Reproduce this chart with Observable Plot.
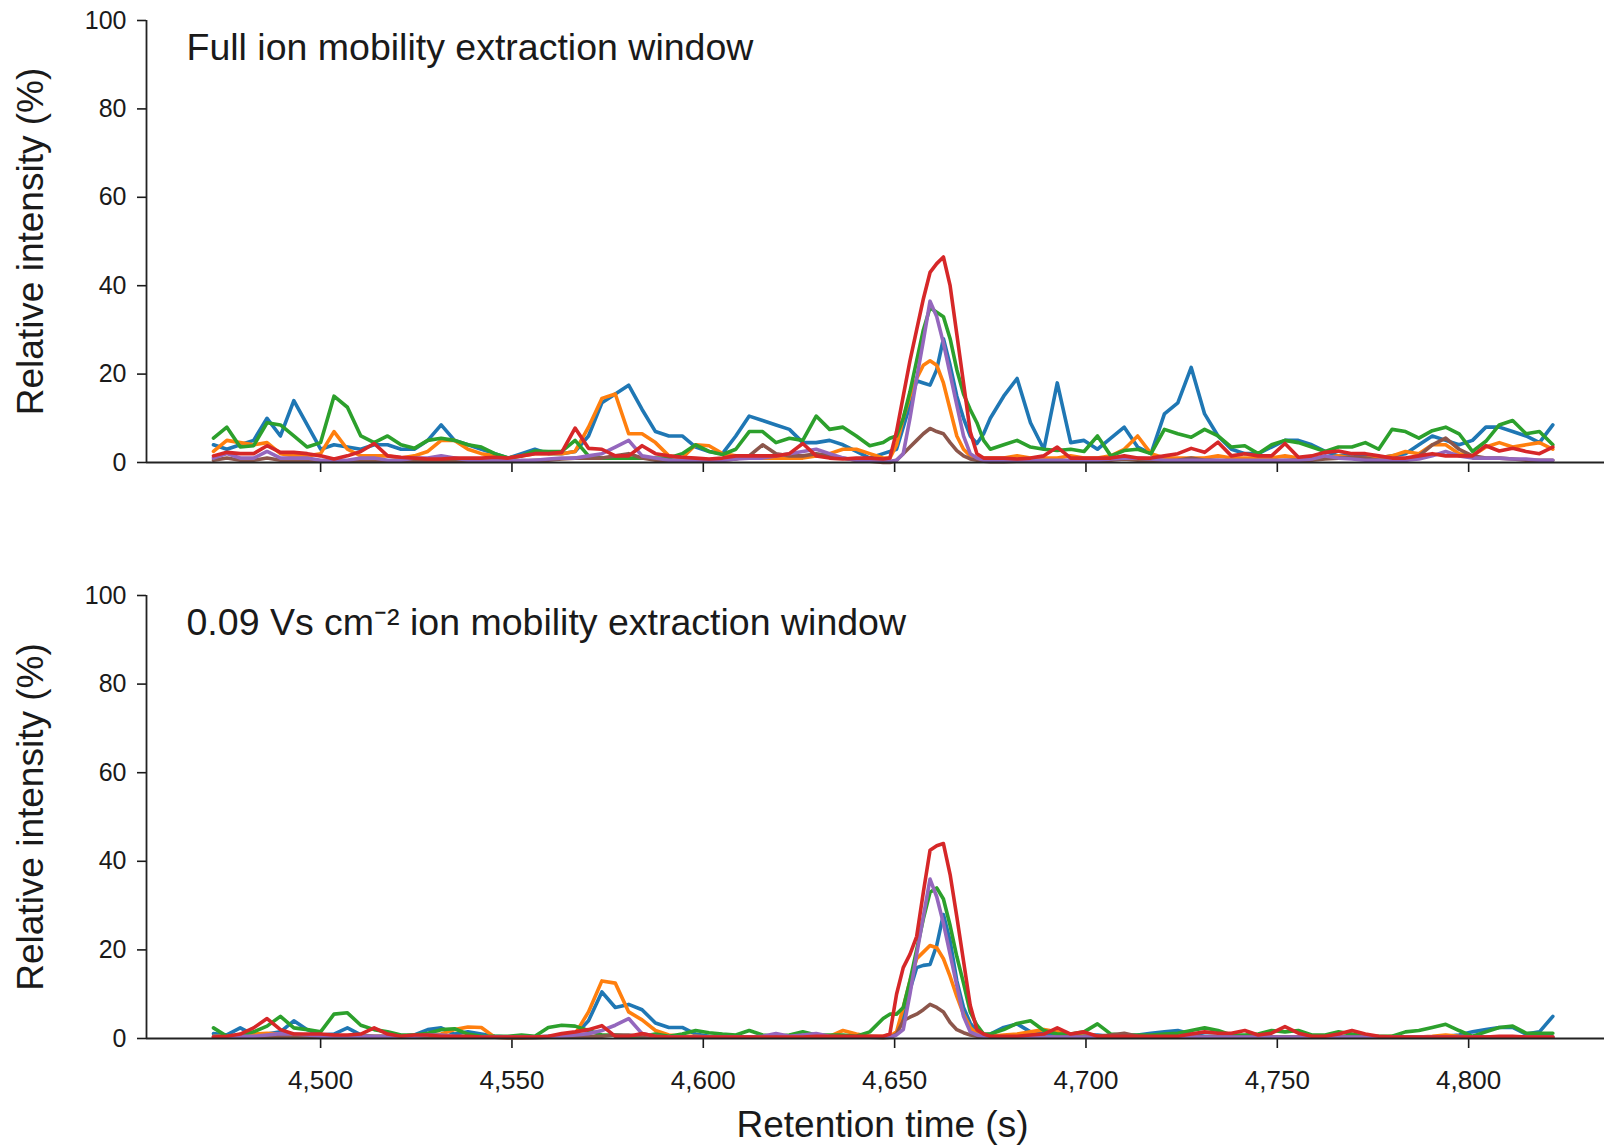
<!DOCTYPE html>
<html>
<head>
<meta charset="utf-8">
<script src="https://cdn.jsdelivr.net/npm/d3@7"></script>
<script src="https://cdn.jsdelivr.net/npm/@observablehq/plot@0.6"></script>
<style>
  html, body { margin: 0; padding: 0; background: #fff; }
  #chart svg { display: block; }
</style>
</head>
<body>
<div id="chart"></div>
<script>
// Retention time grid (s)
const T = [
  4472, 4475.5, 4479, 4482.5, 4486, 4489.5, 4493, 4496.5, 4500, 4503.5,
  4507, 4510.5, 4514, 4517.5, 4521, 4524.5, 4528, 4531.5, 4535, 4538.5,
  4542, 4545.5, 4549, 4552.5, 4556, 4559.5, 4563, 4566.5, 4570, 4573.5,
  4577, 4580.5, 4584, 4587.5, 4591, 4594.5, 4598, 4601.5, 4605, 4608.5,
  4612, 4615.5, 4619, 4622.5, 4626, 4629.5, 4633, 4636.5, 4640, 4643.5,
  4647, 4648.75, 4650.5, 4652.25, 4654, 4655.75, 4657.5, 4659.25, 4661, 4662.75,
  4664.5, 4666.25, 4668, 4669.75, 4671.5, 4673.25, 4675,
  4678.5, 4682, 4685.5, 4689, 4692.5, 4696, 4699.5, 4703, 4706.5, 4710,
  4713.5, 4717, 4720.5, 4724, 4727.5, 4731, 4734.5, 4738, 4741.5, 4745,
  4748.5, 4752, 4755.5, 4759, 4762.5, 4766, 4769.5, 4773, 4776.5, 4780,
  4783.5, 4787, 4790.5, 4794, 4797.5, 4801, 4804.5, 4808, 4811.5, 4815, 4818.5, 4822
];

const seriesNames = ["Ion 1", "Ion 2", "Ion 3", "Ion 4", "Ion 5", "Ion 6"];
const seriesColors = ["#1f77b4", "#ff7f0e", "#2ca02c", "#d62728", "#9467bd", "#8c564b"];
const drawOrder = ["Ion 1", "Ion 2", "Ion 3", "Ion 6", "Ion 5", "Ion 4"];

// ---- Top panel: full ion mobility extraction window ----
const fullIon1 = [
  4, 3, 4, 5, 10, 6, 14, 8.5, 3, 4,
  3.5, 3, 4, 4, 3, 3, 5, 8.5, 5, 4,
  3, 2, 1, 2, 3, 2, 2, 2.5, 6, 13.5,
  15.5, 17.5, 12, 7, 6, 6, 3.5, 2.5, 2, 6,
  10.5, 9.5, 8.5, 7.5, 4.5, 4.5, 5, 4, 2.5, 1,
  2, 2.5, 3, 8, 13, 18.5, 18, 17.5, 21, 28,
  22, 15, 10, 6, 4.3, 6.5, 10,
  15, 19, 9, 3, 18, 4.5, 5, 3, 5.5, 8,
  3.5, 2, 11, 13.5, 21.5, 11, 6, 3, 2, 2,
  3.5, 5, 5, 4, 2.5, 1.5, 2, 1.5, 1, 1.5,
  2, 4, 6, 5, 4, 5, 8, 8, 7, 6, 4.5, 8.5
];
const fullIon2 = [
  2.5, 5, 4.5, 4, 4.5, 2, 1.5, 1.5, 2, 7,
  3, 1.5, 1.5, 1.5, 1, 1.5, 2.5, 5, 5, 3,
  2, 1.5, 1, 1.5, 2, 2, 2, 2.5, 8, 14.5,
  15.5, 6.5, 6.5, 4.5, 1.5, 1, 4, 3.8, 2, 1.5,
  1.5, 1, 1, 1, 1, 1.5, 2, 3, 3, 2,
  1, 1, 4, 10, 15, 19, 22, 23, 22, 18,
  12, 6, 3, 1.5, 1, 1, 1,
  1, 1.5, 1, 1, 1, 1.5, 1, 1, 1.5, 3,
  6, 2, 1, 1, 1, 1, 1.5, 1, 1, 1,
  1, 1.5, 1, 1, 1, 1.5, 1, 1, 1, 1.5,
  2.5, 2, 4, 4, 2, 1.5, 3.5, 4.5, 3.5, 4, 4.5, 3
];
const fullIon3 = [
  5.5, 8, 3.5, 3.8, 9, 8.5, 6, 3.5, 4.5, 15,
  12.5, 6, 4.5, 6, 4, 3.2, 5, 5.5, 5, 4,
  3.5, 2, 1, 1.5, 2.6, 2.5, 2.5, 5, 1.5, 1,
  1, 1, 1, 1, 1, 2, 4, 2.5, 1.8, 3,
  7, 7, 4.5, 5.5, 5, 10.5, 7.5, 8, 6, 3.8,
  4.5, 5.5, 6, 10, 16, 23, 30, 35, 34, 33,
  28, 21, 15.5, 12, 9, 5, 3,
  4, 5, 3.5, 3, 2.7, 3, 2.5, 6, 1.5, 2.7,
  3, 2, 7.5, 6.5, 5.7, 7.5, 6, 3.5, 3.8, 2,
  4, 5, 4.5, 3.5, 2.5, 3.5, 3.5, 4.5, 3, 7.5,
  7, 5.5, 7.2, 8, 6.5, 2.5, 4.8, 8.5, 9.5, 6.5, 7, 4
];
const fullIon4 = [
  1.5, 2.3, 2, 2, 3.8, 2.3, 2.3, 2, 1.5, 0.8,
  1.5, 2.5, 4.3, 1.5, 1.2, 1, 0.8, 0.8, 1, 1,
  1, 1.2, 1, 1.5, 2, 2, 2.3, 7.8, 3.2, 3,
  1.5, 1.5, 3.8, 2, 1.5, 1.2, 1, 0.8, 1, 1.5,
  1.5, 1.5, 1.5, 2, 4.3, 1.5, 1, 0.8, 1, 1,
  0.8, 1, 7, 15, 23, 30, 37, 43, 45, 46.5,
  40, 29, 18, 7, 2, 1, 1,
  1, 0.8, 1, 1.5, 3.5, 1, 1, 1, 1, 1.5,
  1, 1, 1.5, 2, 3.2, 2.3, 4.6, 1.5, 2, 1.5,
  1.5, 4.3, 1.2, 1.5, 2.3, 2.6, 2, 2, 1.5, 1,
  1, 1.5, 2, 1.5, 1.5, 1.5, 3.8, 2.6, 3.2, 2.5, 2, 3.5
];
const fullIon5 = [
  1, 2, 1, 1, 2.5, 1, 1, 1, 0.5, 0.5,
  0.5, 1, 1, 0.5, 0.5, 1, 1, 1.5, 1, 0.5,
  0.5, 0.5, 0.3, 0.5, 0.5, 0.8, 1, 1, 1.5, 2,
  3.5, 5, 1.5, 1, 0.5, 0.5, 0.5, 0.5, 0.5, 0.8,
  1, 1, 1.5, 2, 2.5, 3, 2, 1, 0.5, 0.5,
  0.3, 0.3, 0.5, 2, 10, 19, 27.5, 36.5, 33, 27,
  20, 13, 6, 2, 1, 0.5, 0.5,
  0.5, 0.5, 0.5, 0.5, 0.5, 0.5, 0.5, 0.5, 0.8, 1,
  1, 0.8, 0.5, 0.5, 0.5, 0.5, 0.5, 0.5, 0.5, 0.5,
  0.5, 0.5, 0.5, 0.8, 1.5, 1, 0.8, 0.5, 0.5, 0.5,
  0.5, 0.8, 1.5, 2.5, 1.5, 1, 1, 1, 0.8, 0.8, 0.5, 0.5
];
const fullIon6 = [
  0.5, 1, 0.5, 0.5, 1, 0.5, 0.5, 0.5, 0.3, 0.3,
  0.3, 0.5, 0.5, 0.3, 0.3, 0.3, 0.5, 0.5, 0.5, 0.3,
  0.3, 0.3, 0.3, 0.3, 0.5, 0.5, 0.8, 1, 1, 1,
  1.5, 2, 1, 0.5, 0.5, 0.5, 0.5, 0.5, 0.5, 0.8,
  1.5, 4, 2, 1.5, 1.5, 2, 1.5, 1, 0.5, 0.3,
  0, 0, 0.5, 2, 3.5, 5, 6.5, 7.7, 7, 6.5,
  4.5, 2.7, 1.5, 0.8, 0.5, 0.3, 0.2,
  0.2, 0.3, 0.3, 0.3, 0.3, 0.3, 0.3, 0.5, 0.5, 0.8,
  0.5, 0.3, 0.3, 0.5, 1, 0.5, 0.5, 0.3, 0.3, 0.3,
  0.3, 0.5, 0.5, 0.5, 0.8, 1, 1.2, 1, 0.5, 0.5,
  0.5, 1.5, 4, 5.5, 3, 1.5, 1, 1, 0.8, 0.5, 0.5, 0.5
];

// ---- Bottom panel: 0.09 Vs cm-2 ion mobility extraction window ----
const narrowIon1 = [
  1.1, 0.8, 2.4, 0.8, 1, 1.5, 4, 2, 0.8, 1,
  2.4, 0.8, 0.5, 0.5, 0.5, 0.8, 2, 2.4, 1, 1.5,
  1, 0.5, 0.3, 0.3, 0.3, 0.5, 0.5, 0.8, 4, 10.5,
  7, 7.7, 6.5, 3.5, 2.5, 2.5, 1, 0.5, 0.3, 0.3,
  0.3, 0.3, 0.3, 0.3, 0.3, 0.5, 0.5, 0.5, 0.5, 0.5,
  0.3, 0.3, 1, 5, 11, 16, 16.5, 16.7, 21, 28,
  22, 13, 7, 3.5, 1.5, 0.8, 1,
  2.5, 3.3, 1.5, 1, 1.2, 1, 0.8, 0.8, 0.5, 0.5,
  0.8, 1.2, 1.5, 1.8, 1, 0.5, 0.5, 0.5, 0.5, 0.3,
  0.3, 0.3, 0.3, 0.3, 0.3, 0.3, 0.3, 0.3, 0.3, 0.3,
  0.3, 0.3, 0.3, 0.5, 0.8, 1.5, 2, 2.5, 2.5, 1, 1.5, 5
];
const narrowIon2 = [
  0.5, 0.5, 0.5, 1, 1.2, 1, 0.8, 0.5, 0.5, 0.5,
  0.5, 0.5, 0.5, 0.5, 0.5, 0.5, 0.8, 1, 2, 2.6,
  2.5, 0.3, 0.2, 0.2, 0.3, 0.3, 0.5, 1, 6, 13,
  12.5, 6, 4.2, 1.8, 0.8, 0.5, 0.5, 0.3, 0.3, 0.3,
  0.3, 0.3, 0.5, 0.5, 0.3, 0.3, 0.5, 1.8, 1, 0.5,
  0.5, 0.5, 1.5, 7, 13, 18, 19.5, 21, 20.5, 18,
  14, 9.5, 5.5, 2.5, 1, 0.5, 0.5,
  0.8, 1, 1.5, 2, 1.5, 0.8, 0.5, 0.5, 0.3, 0.3,
  0.3, 0.3, 0.3, 0.3, 0.3, 0.3, 0.3, 0.3, 0.3, 0.3,
  0.3, 0.3, 0.3, 0.3, 0.3, 0.3, 0.3, 0.3, 0.3, 0.5,
  0.3, 0.3, 0.5, 0.8, 0.5, 0.3, 0.3, 0.3, 0.3, 0.3, 0.3, 0.3
];
const narrowIon3 = [
  2.4, 0.5, 0.8, 1.5, 2.8, 5, 2.4, 2, 1.5, 5.5,
  5.8, 3, 2, 1.5, 0.8, 0.8, 1.2, 2, 2.2, 1,
  0.5, 0.5, 0.5, 0.8, 0.5, 2.5, 3, 2.8, 1.8, 0.8,
  0.8, 0.5, 0.5, 1, 0.5, 1, 1.8, 1.3, 1, 0.8,
  1.8, 0.8, 0.5, 0.8, 1.5, 0.8, 0.8, 0.8, 0.5, 1.5,
  4.5, 5.5, 5.5, 7, 13, 20, 27, 33, 34, 31.5,
  25.5, 18.5, 12.5, 6, 3, 1, 1,
  2, 3.4, 4, 1.8, 1, 1, 1.5, 3.3, 1, 0.8,
  0.8, 0.8, 1, 1.2, 1.8, 2.4, 1.8, 0.8, 0.8, 1,
  1.8, 1.5, 1.8, 0.8, 0.8, 1.5, 1, 0.5, 0.5, 0.5,
  1.5, 1.8, 2.5, 3.2, 1.8, 0.5, 1.5, 2.5, 2.8, 1.2, 1.2, 1.2
];
const narrowIon4 = [
  0.3, 0.5, 1, 2.4, 4.5, 2, 1, 1, 1, 0.8,
  0.8, 1, 2.4, 1, 0.5, 0.8, 0.8, 0.5, 0.5, 0.5,
  0.3, 0.3, 0.3, 0.3, 0.3, 0.5, 1.1, 1.5, 2, 2.9,
  0.5, 0.5, 1.1, 0.5, 0.3, 0.3, 0.3, 0.3, 0.3, 0.3,
  0.3, 0.3, 0.3, 0.3, 0.3, 0.5, 0.5, 0.5, 0.5, 0.5,
  0.5, 1, 10, 16, 19, 23, 33, 42.5, 43.5, 44,
  37, 27.5, 17.5, 7.5, 2, 1, 0.5,
  0.5, 0.5, 0.8, 1, 2.4, 1, 1.5, 0.5, 0.5, 0.5,
  0.5, 0.5, 0.5, 0.5, 1, 1.5, 1.2, 1.2, 1.8, 0.8,
  1.2, 2.7, 1.2, 0.5, 0.5, 1, 1.8, 1, 0.5, 0.3,
  0.3, 0.3, 0.3, 0.3, 0.3, 0.3, 0.3, 0.5, 0.5, 0.3, 0.3, 0.3
];
const narrowIon5 = [
  0.3, 0.3, 0.5, 0.5, 0.8, 1.1, 1, 0.8, 0.5, 0.5,
  0.5, 0.5, 0.5, 0.5, 0.3, 0.5, 0.8, 0.8, 0.5, 0.3,
  0.3, 0.3, 0.3, 0.3, 0.3, 0.3, 0.5, 0.8, 1.1, 1.8,
  3, 4.5, 1.1, 0.5, 0.3, 0.3, 0.3, 0.3, 0.3, 0.3,
  0.3, 0.5, 1.1, 0.5, 0.8, 1.1, 0.5, 0.3, 0.3, 0.3,
  0.3, 0.3, 0.8, 2, 10, 19, 27.5, 36, 32, 26,
  19, 12, 5, 1.5, 0.8, 0.5, 0.3,
  0.3, 0.3, 0.3, 0.3, 0.3, 0.3, 0.3, 0.3, 0.3, 0.3,
  0.3, 0.3, 0.3, 0.3, 0.3, 0.3, 0.3, 0.3, 0.3, 0.3,
  0.3, 0.3, 0.3, 0.3, 0.3, 0.3, 0.3, 0.3, 0.3, 0.3,
  0.3, 0.3, 0.3, 0.3, 0.3, 0.3, 0.3, 0.3, 0.3, 0.3, 0.3, 0.3
];
const narrowIon6 = [
  0.3, 0.3, 0.3, 0.3, 0.5, 0.5, 0.3, 0.3, 0.3, 0.3,
  0.3, 0.3, 0.3, 0.3, 0.3, 0.3, 0.3, 0.3, 0.3, 0.3,
  0.3, 0.3, 0.2, 0.2, 0.2, 0.3, 0.3, 0.5, 0.5, 0.5,
  0.8, 0.8, 0.5, 0.3, 0.3, 0.3, 0.3, 0.3, 0.3, 0.3,
  0.3, 0.3, 0.3, 0.3, 0.3, 0.3, 0.3, 0.3, 0.3, 0.3,
  0.2, 0.3, 1, 4, 4.8, 5.5, 6.5, 7.7, 7, 6,
  3.6, 2, 1.3, 0.8, 0.5, 0.3, 0.3,
  0.3, 0.3, 0.3, 0.3, 0.3, 0.3, 0.3, 0.5, 0.8, 1.2,
  0.5, 0.3, 0.3, 0.3, 0.3, 0.3, 0.3, 0.3, 0.3, 0.3,
  0.3, 0.3, 0.3, 0.3, 0.3, 0.3, 0.3, 0.3, 0.3, 0.3,
  0.3, 0.3, 0.3, 0.3, 0.3, 0.3, 0.3, 0.3, 0.3, 0.3, 0.3, 0.3
];

const xDomain = [4454.5, 4835.5];
const xTicks = [4500, 4550, 4600, 4650, 4700, 4750, 4800];
const yTicks = [0, 20, 40, 60, 80, 100];
const topTitle = "Full ion mobility extraction window";
const bottomTitle = "0.09 Vs cm\u207B\u00B2 ion mobility extraction window";
const yLabel = "Relative intensity (%)";
const xLabel = "Retention time (s)";

const FONT = "'Liberation Sans', Arial, Helvetica, sans-serif";

function tidy(seriesArrays) {
  const rows = [];
  for (const name of drawOrder) {
    const vals = seriesArrays[seriesNames.indexOf(name)];
    if (vals.length !== T.length) console.error("length mismatch", name, vals.length);
    vals.forEach((v, i) => rows.push({t: T[i], v, s: name}));
  }
  return rows;
}

const topData = tidy([fullIon1, fullIon2, fullIon3, fullIon4, fullIon5, fullIon6]);
const bottomData = tidy([narrowIon1, narrowIon2, narrowIon3, narrowIon4, narrowIon5, narrowIon6]);

function panel({data, title, height, marginTop, marginBottom, showXLabels}) {
  const marks = [
    Plot.axisY({ticks: yTicks, tickSize: 9, tickPadding: 11, fontSize: 25, label: null, strokeWidth: 1.6}),
    showXLabels
      ? Plot.axisX({ticks: xTicks, tickSize: 10, tickPadding: 22, fontSize: 26, tickFormat: d3.format(","), label: null, strokeWidth: 1.6})
      : Plot.axisX({ticks: xTicks, tickSize: 10, tickFormat: () => "", label: null, strokeWidth: 1.6}),
    Plot.ruleX([xDomain[0]], {y1: 0, y2: 100, strokeWidth: 1.8, stroke: "#222"}),
    Plot.line(data, {x: "t", y: "v", z: "s", stroke: "s", strokeWidth: 3.6, strokeLinejoin: "round", strokeLinecap: "round"}),
    Plot.ruleY([0], {strokeWidth: 2, stroke: "#222"}),
    Plot.text([title], {frameAnchor: "top-left", dx: 40, dy: 13, lineAnchor: "top", textAnchor: "start", fontSize: 37.5, fill: "#1a1a1a"}),
    Plot.text([yLabel], {frameAnchor: "left", dx: -115, rotate: -90, textAnchor: "middle", lineAnchor: "middle", fontSize: 37, fill: "#1a1a1a"})
  ];
  if (showXLabels) {
    marks.push(Plot.text([xLabel], {frameAnchor: "bottom", dx: 7, dy: 87, textAnchor: "middle", lineAnchor: "middle", fontSize: 37, fill: "#1a1a1a"}));
  }
  return Plot.plot({
    width: 1604,
    height,
    marginTop,
    marginBottom,
    marginLeft: 146,
    marginRight: 0,
    x: {domain: xDomain},
    y: {domain: [0, 100]},
    color: {domain: seriesNames, range: seriesColors},
    style: {fontFamily: FONT, background: "#fff", color: "#1a1a1a", overflow: "visible"},
    marks
  });
}

const chart = document.getElementById("chart");
chart.append(panel({data: topData, title: topTitle, height: 560, marginTop: 20, marginBottom: 98, showXLabels: false}));
chart.append(panel({data: bottomData, title: bottomTitle, height: 588, marginTop: 35, marginBottom: 110, showXLabels: true}));
</script>
</body>
</html>
